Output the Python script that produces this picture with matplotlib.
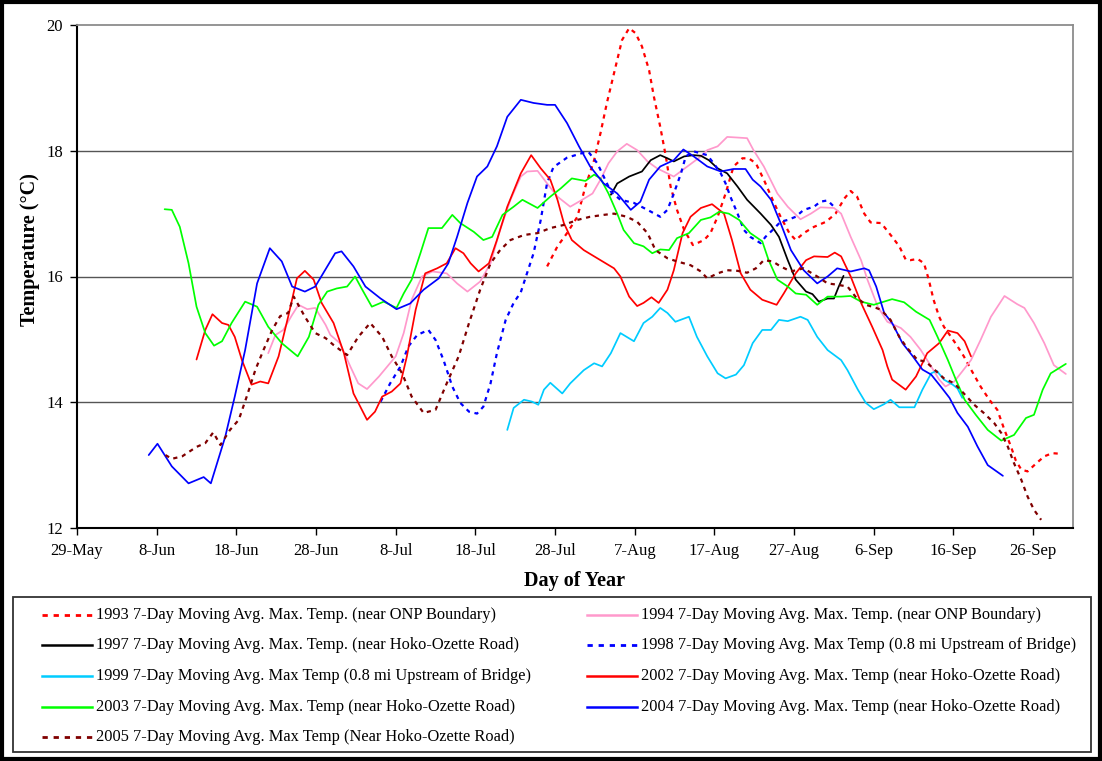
import matplotlib
matplotlib.use("Agg")
import matplotlib.pyplot as plt
from matplotlib.lines import Line2D
from matplotlib.patches import Rectangle

plt.rcParams['font.family'] = ['Liberation Serif', 'DejaVu Serif']

# x values: days after 29-May
tick_days = [0, 10, 20, 30, 40, 50, 60, 70, 80, 90, 100, 110, 120]
tick_labels = ["29-May", "8-Jun", "18-Jun", "28-Jun", "8-Jul", "18-Jul", "28-Jul",
               "7-Aug", "17-Aug", "27-Aug", "6-Sep", "16-Sep", "26-Sep"]
y_ticks = [12, 14, 16, 18, 20]

d1993 = [59.0, 60.3, 61.5, 62.8, 63.8, 64.9, 65.7, 66.5, 67.6, 68.4, 69.3, 70.1, 70.9, 71.8, 72.4, 73.2,
         73.9, 74.5, 75.3, 76.2, 77.3, 78.7, 79.5, 80.4, 81.4, 82.4, 83.5, 84.3, 85.2, 86.2, 87.3, 88.3,
         89.4, 90.2, 91.2, 92.5, 94.0, 95.2, 96.3, 97.1, 97.9, 98.8, 99.6, 100.9, 101.3, 102.3, 103.2,
         104.0, 104.6, 105.5, 106.3, 106.9, 107.5, 108.2, 108.8, 109.7, 110.5, 111.3, 112.2, 113.4,
         114.5, 115.5, 116.4, 117.2, 117.8, 118.5, 119.3, 120.4, 121.4, 122.4, 123.5]
t1993 = [16.16, 16.48, 16.69, 16.95, 17.43, 17.85, 18.28, 18.76, 19.34, 19.76, 19.95, 19.87, 19.66, 19.28,
         18.86, 18.38, 17.91, 17.43, 17.06, 16.74, 16.50, 16.58, 16.69, 16.95, 17.32, 17.75, 17.88, 17.88,
         17.80, 17.54, 17.22, 16.95, 16.69, 16.58, 16.69, 16.79, 16.87, 17.00, 17.24, 17.36, 17.27, 17.00,
         16.86, 16.85, 16.79, 16.63, 16.48, 16.27, 16.26, 16.28, 16.21, 15.95, 15.63, 15.36, 15.20, 15.04,
         14.89, 14.73, 14.52, 14.25, 14.04, 13.88, 13.56, 13.30, 13.08, 12.93, 12.90, 13.03, 13.14, 13.19,
         13.18]

d1994 = [24.0, 24.9, 25.9, 27.0, 27.8, 28.9, 29.9, 31.2, 31.8, 33.0, 34.3, 35.3, 36.4, 37.9, 40.0, 41.0,
         42.0, 43.3, 44.6, 46.4, 47.7, 49.0, 50.6, 51.9, 53.1, 54.4, 55.7, 56.5, 57.8, 59.0, 60.3, 61.9,
         63.4, 64.7, 65.7, 66.7, 67.8, 69.0, 70.3, 71.6, 72.8, 74.9, 76.6, 78.3, 79.1, 80.4, 81.6, 82.9,
         84.1, 84.9, 86.2, 87.9, 89.2, 90.8, 92.1, 93.3, 95.0, 95.9, 97.1, 98.4, 99.2, 100.5, 101.7, 103.4,
         104.6, 105.9, 107.2, 108.2, 109.0, 110.1, 111.1, 112.2, 113.4, 114.7, 116.4, 118.0, 118.9, 120.1,
         121.4, 122.6, 124.1]
t1994 = [14.78, 15.07, 15.15, 15.39, 15.55, 15.48, 15.50, 15.23, 15.07, 14.94, 14.57, 14.30, 14.21, 14.41,
         14.73, 15.10, 15.63, 16.00, 16.08, 16.05, 15.89, 15.76, 15.92, 16.21, 16.74, 17.22, 17.59, 17.67,
         17.68, 17.48, 17.27, 17.11, 17.22, 17.32, 17.54, 17.80, 17.99, 18.11, 18.01, 17.83, 17.72, 17.59,
         17.75, 17.91, 18.01, 18.07, 18.22, 18.21, 18.20, 18.01, 17.75, 17.32, 17.11, 16.91, 17.00, 17.10,
         17.09, 17.00, 16.63, 16.26, 15.95, 15.52, 15.28, 15.18, 15.04, 14.83, 14.57, 14.36, 14.25, 14.33,
         14.49, 14.67, 14.99, 15.36, 15.69, 15.56, 15.50, 15.26, 14.94, 14.59, 14.45]

d1997 = [67.0, 67.8, 69.3, 70.9, 72.0, 73.2, 74.1, 74.9, 76.2, 77.4, 78.3, 79.3, 80.4, 81.6, 82.9, 84.1,
         85.8, 87.1, 88.1, 89.2, 90.2, 91.5, 92.3, 93.1, 94.2, 95.0, 95.6, 96.2]
t1997 = [17.30, 17.48, 17.59, 17.67, 17.85, 17.93, 17.88, 17.83, 17.91, 17.93, 17.92, 17.85, 17.72, 17.64,
         17.43, 17.22, 17.00, 16.82, 16.63, 16.26, 15.95, 15.76, 15.72, 15.60, 15.65, 15.65, 15.84, 16.01]

d1998 = [38.1, 39.3, 40.6, 41.6, 42.7, 44.1, 45.0, 46.0, 47.1, 48.1, 49.2, 50.2, 51.0, 51.9, 52.7, 53.8,
         54.8, 55.7, 56.5, 57.3, 58.2, 59.0, 59.8, 61.5, 63.6, 64.2, 65.3, 66.1, 67.0, 68.2, 69.9, 71.6,
         73.2, 74.1, 74.9, 75.8, 76.4, 77.4, 79.1, 79.9, 80.8, 81.4, 82.0, 82.9, 83.7, 84.5, 85.8, 86.4,
         87.3, 88.3, 89.2, 90.2, 91.2, 92.5, 93.3, 94.2, 95.0]
t1998 = [14.01, 14.30, 14.57, 14.89, 15.07, 15.15, 14.99, 14.67, 14.25, 13.99, 13.85, 13.82, 13.93, 14.30,
         14.78, 15.31, 15.58, 15.75, 16.06, 16.37, 16.90, 17.49, 17.74, 17.89, 17.97, 17.98, 17.80, 17.59,
         17.35, 17.22, 17.17, 17.06, 16.95, 17.06, 17.32, 17.64, 17.91, 17.99, 17.93, 17.80, 17.64, 17.48,
         17.27, 17.00, 16.74, 16.63, 16.53, 16.63, 16.74, 16.87, 16.90, 16.95, 17.06, 17.11, 17.19, 17.21,
         17.11]

d1999 = [54.0, 54.8, 56.1, 57.1, 57.9, 58.6, 59.4, 60.9, 61.9, 63.6, 64.9, 65.9, 67.0, 68.2, 69.9, 71.1,
         72.2, 73.2, 74.1, 75.1, 76.8, 77.8, 79.1, 80.4, 81.4, 82.7, 83.7, 84.8, 86.0, 87.1, 88.1, 89.2,
         90.8, 91.7, 92.9, 94.2, 95.9, 96.7, 98.0, 99.0, 100.0, 101.3, 102.1, 103.2, 105.1, 106.1, 107.2,
         107.9, 108.8, 109.9, 110.5, 111.1]
t1999 = [13.56, 13.91, 14.04, 14.01, 13.96, 14.20, 14.31, 14.14, 14.30, 14.51, 14.62, 14.57, 14.78, 15.10,
         14.97, 15.26, 15.36, 15.50, 15.42, 15.28, 15.36, 15.04, 14.73, 14.46, 14.38, 14.44, 14.59, 14.94,
         15.15, 15.15, 15.31, 15.29, 15.36, 15.31, 15.04, 14.83, 14.67, 14.51, 14.20, 13.99, 13.89, 13.97,
         14.04, 13.92, 13.92, 14.20, 14.46, 14.50, 14.36, 14.28, 14.22, 14.07]

d2002 = [15.0, 16.1, 17.0, 18.2, 19.0, 19.8, 20.7, 21.9, 23.0, 24.0, 25.3, 26.5, 27.6, 28.6, 29.7, 30.7,
         32.2, 33.5, 34.7, 36.4, 37.4, 38.3, 39.5, 40.6, 41.4, 42.5, 43.7, 45.2, 46.4, 47.5, 48.5, 49.4,
         50.4, 51.7, 52.7, 54.0, 55.7, 57.0, 58.2, 59.4, 60.3, 61.1, 62.1, 63.6, 65.3, 67.4, 68.2, 69.3,
         70.3, 71.1, 72.1, 73.0, 74.1, 74.9, 76.0, 77.0, 78.3, 79.7, 81.2, 82.2, 83.3, 84.5, 86.0, 87.8,
         88.7, 90.2, 91.5, 92.5, 94.2, 95.1, 95.9, 97.1, 98.4, 99.8, 101.1, 101.7, 102.3, 104.0, 105.3,
         106.7, 108.2, 109.3, 110.5, 111.4, 112.2]
t2002 = [14.68, 15.15, 15.40, 15.26, 15.23, 15.04, 14.67, 14.28, 14.33, 14.30, 14.73, 15.36, 15.97, 16.09,
         15.95, 15.58, 15.26, 14.78, 14.14, 13.72, 13.85, 14.09, 14.17, 14.30, 14.73, 15.47, 16.05, 16.13,
         16.21, 16.45, 16.37, 16.21, 16.08, 16.21, 16.58, 17.11, 17.64, 17.93, 17.72, 17.54, 17.22, 16.85,
         16.58, 16.42, 16.29, 16.13, 16.00, 15.68, 15.53, 15.58, 15.67, 15.58, 15.79, 16.10, 16.69, 16.95,
         17.09, 17.15, 17.00, 16.58, 16.05, 15.79, 15.63, 15.55, 15.73, 16.05, 16.26, 16.32, 16.31, 16.38,
         16.32, 16.00, 15.58, 15.20, 14.83, 14.57, 14.36, 14.20, 14.41, 14.78, 14.94, 15.14, 15.10, 14.97,
         14.73]

d2003 = [11.0, 11.9, 12.9, 14.0, 15.0, 16.1, 17.2, 18.2, 19.4, 21.1, 22.6, 24.0, 25.7, 27.7, 29.1, 30.3,
         31.4, 32.6, 33.9, 34.9, 35.8, 37.0, 38.5, 40.1, 41.0, 42.0, 43.1, 44.1, 45.8, 47.1, 48.1, 49.8,
         51.0, 52.1, 53.4, 54.8, 55.9, 57.8, 59.4, 60.7, 62.1, 63.8, 64.9, 65.7, 66.7, 67.8, 68.6, 69.9,
         71.1, 72.2, 73.2, 74.3, 75.3, 76.8, 78.3, 79.5, 80.6, 81.8, 83.1, 84.5, 86.0, 86.8, 87.9, 89.2,
         90.2, 91.5, 92.9, 94.2, 95.9, 97.1, 98.4, 100.0, 102.3, 103.8, 105.3, 107.0, 108.0, 109.3, 110.3,
         111.4, 112.8, 114.3, 116.0, 117.6, 119.1, 120.1, 121.2, 122.2, 124.1]
t2003 = [17.07, 17.06, 16.79, 16.21, 15.52, 15.10, 14.90, 14.97, 15.26, 15.60, 15.52, 15.20, 14.94, 14.73,
         15.04, 15.55, 15.76, 15.81, 15.84, 16.00, 15.79, 15.52, 15.60, 15.50, 15.73, 15.95, 16.37, 16.77,
         16.77, 16.98, 16.85, 16.71, 16.58, 16.63, 16.98, 17.11, 17.22, 17.09, 17.27, 17.40, 17.56, 17.52,
         17.62, 17.56, 17.32, 17.00, 16.74, 16.53, 16.48, 16.37, 16.43, 16.42, 16.61, 16.69, 16.90, 16.94,
         17.03, 17.00, 16.90, 16.69, 16.56, 16.26, 15.95, 15.84, 15.73, 15.71, 15.55, 15.68, 15.68, 15.69,
         15.60, 15.55, 15.64, 15.59, 15.44, 15.31, 15.04, 14.67, 14.36, 14.04, 13.80, 13.56, 13.39, 13.48,
         13.75, 13.80, 14.20, 14.46, 14.61]

d2004 = [9.0, 10.1, 11.9, 14.0, 15.9, 16.8, 18.6, 19.8, 21.1, 22.6, 24.2, 25.7, 27.0, 28.6, 29.9, 32.4,
         33.2, 34.7, 36.2, 38.1, 40.1, 41.8, 43.5, 45.4, 46.6, 47.7, 49.0, 50.2, 51.5, 52.7, 54.0, 55.7,
         57.3, 59.0, 60.0, 61.5, 63.0, 64.4, 66.1, 67.8, 69.5, 70.7, 71.8, 73.2, 74.9, 76.1, 77.4, 79.1,
         80.8, 82.4, 83.9, 84.8, 85.8, 87.1, 88.3, 89.6, 91.2, 92.9, 94.2, 95.4, 97.1, 98.8, 99.4, 100.3,
         101.3, 102.3, 103.6, 104.9, 106.1, 107.2, 108.4, 109.5, 110.5, 111.8, 113.0, 114.3, 116.2]
t2004 = [13.16, 13.34, 12.98, 12.71, 12.81, 12.71, 13.45, 14.09, 14.83, 15.89, 16.45, 16.24, 15.84, 15.76,
         15.84, 16.37, 16.40, 16.16, 15.84, 15.65, 15.48, 15.57, 15.79, 15.97, 16.21, 16.63, 17.17, 17.59,
         17.75, 18.07, 18.54, 18.81, 18.76, 18.73, 18.73, 18.44, 18.07, 17.75, 17.48, 17.32, 17.06, 17.19,
         17.54, 17.75, 17.85, 18.02, 17.91, 17.75, 17.67, 17.71, 17.71, 17.54, 17.43, 17.22, 16.85, 16.42,
         16.10, 15.89, 16.00, 16.13, 16.08, 16.13, 16.10, 15.84, 15.42, 15.26, 14.94, 14.73, 14.52, 14.44,
         14.25, 14.07, 13.83, 13.61, 13.30, 13.00, 12.83]

d2005 = [11.1, 11.9, 13.2, 15.0, 16.1, 17.1, 18.0, 19.2, 20.3, 21.3, 22.4, 23.4, 24.5, 25.5, 26.5, 27.2,
         28.6, 29.9, 31.2, 32.2, 33.9, 35.3, 36.8, 38.3, 39.5, 40.8, 42.0, 43.5, 45.0, 46.4, 47.9, 49.2,
         50.6, 51.9, 53.1, 54.4, 56.1, 57.8, 59.4, 61.1, 62.8, 64.4, 66.1, 67.4, 69.0, 70.3, 71.6, 72.6,
         74.1, 75.3, 77.0, 78.3, 79.1, 80.4, 81.6, 82.9, 84.1, 85.2, 86.2, 87.3, 88.3, 89.6, 91.2, 92.9,
         94.2, 95.4, 96.7, 97.7, 99.0, 100.3, 100.9, 102.1, 103.2, 104.2, 105.5, 106.5, 107.6, 108.8,
         110.1, 111.3, 112.6, 113.8, 115.1, 116.0, 116.8, 117.6, 118.5, 119.3, 120.1, 121.0]
t2005 = [13.16, 13.10, 13.14, 13.29, 13.35, 13.52, 13.32, 13.56, 13.72, 14.09, 14.52, 14.83, 15.15, 15.37,
         15.42, 15.68, 15.36, 15.10, 15.02, 14.91, 14.75, 15.04, 15.26, 15.04, 14.73, 14.46, 14.09, 13.83,
         13.88, 14.30, 14.73, 15.26, 15.79, 16.21, 16.42, 16.58, 16.66, 16.69, 16.77, 16.82, 16.90, 16.95,
         16.98, 17.00, 16.95, 16.87, 16.69, 16.42, 16.29, 16.24, 16.18, 16.08, 15.97, 16.05, 16.10, 16.09,
         16.06, 16.13, 16.26, 16.24, 16.16, 16.08, 16.13, 16.00, 15.89, 15.87, 15.84, 15.68, 15.55, 15.50,
         15.47, 15.31, 15.04, 14.86, 14.67, 14.65, 14.52, 14.38, 14.30, 14.14, 13.96, 13.83, 13.67, 13.51,
         13.30, 13.03, 12.77, 12.50, 12.29, 12.13]

labels = [
    "1993 7-Day Moving Avg. Max. Temp. (near ONP Boundary)",
    "1994 7-Day Moving Avg. Max. Temp. (near ONP Boundary)",
    "1997 7-Day Moving Avg. Max. Temp. (near Hoko-Ozette Road)",
    "1998 7-Day Moving Avg. Max Temp (0.8 mi Upstream of Bridge)",
    "1999 7-Day Moving Avg. Max Temp (0.8 mi Upstream of Bridge)",
    "2002 7-Day Moving Avg. Max. Temp (near Hoko-Ozette Road)",
    "2003 7-Day Moving Avg. Max. Temp (near Hoko-Ozette Road)",
    "2004 7-Day Moving Avg. Max. Temp (near Hoko-Ozette Road)",
    "2005 7-Day Moving Avg. Max Temp (Near Hoko-Ozette Road)",
]

DOT = (0, (1.9, 2.1))
series = [
    (d1993, t1993, "#FF0000", DOT),
    (d1994, t1994, "#FF99CC", "-"),
    (d1997, t1997, "#000000", "-"),
    (d1998, t1998, "#0000FF", DOT),
    (d1999, t1999, "#00CCFF", "-"),
    (d2002, t2002, "#FF0000", "-"),
    (d2003, t2003, "#00FF00", "-"),
    (d2004, t2004, "#0000FF", "-"),
    (d2005, t2005, "#800000", DOT),
]
for d, t, c, ls in series:
    assert len(d) == len(t), (len(d), len(t))

W, H = 1102, 761
fig = plt.figure(figsize=(W / 100, H / 100), dpi=100)
L, R, T, B = 77, 1073, 25, 528
ax = fig.add_axes([L / W, 1 - B / H, (R - L) / W, (B - T) / H])

for (d, t, c, ls), lab in zip(series, labels):
    lw = 1.6 if ls is DOT else 1.25
    ax.plot(d, t, color=c, linestyle=ls, lw=lw, label=lab,
            solid_capstyle='round', solid_joinstyle='round')

ax.set_xlim(0, 125)
ax.set_ylim(12, 20)
ax.set_xticks(tick_days)
ax.set_xticklabels(tick_labels)
ax.set_yticks(y_ticks)
for yv in [14, 16, 18]:
    ax.axhline(yv, color="#555555", lw=1.0, zorder=0)
ax.tick_params(axis='both', direction='out', length=5, width=1.0, labelsize=12, color='black')
ax.tick_params(axis='x', pad=6)
ax.tick_params(axis='y', pad=5)
for s in ['left', 'bottom']:
    ax.spines[s].set_color('black')
    ax.spines[s].set_linewidth(1.5)
for s in ['top', 'right']:
    ax.spines[s].set_color('#8c8c8c')
    ax.spines[s].set_linewidth(1.3)

fig.text(30 / W, 1 - 250 / H, "Temperature (°C)", rotation=90, ha='center', va='center',
         fontsize=14.5, fontweight='bold')
fig.text(575 / W, 1 - 581 / H, "Day of Year", ha='center', va='center',
         fontsize=14.5, fontweight='bold')

# legend box
fig.add_artist(Rectangle((13 / W, 1 - 752 / H), (1091 - 13) / W, (752 - 597) / H,
                         transform=fig.transFigure, fill=False, edgecolor='#333333', lw=1.3))
row_y = [615, 645, 676, 707, 737]
col_x = [42, 587]
for i, ((d, t, c, ls), lab) in enumerate(zip(series, labels)):
    r, col = divmod(i, 2)
    y = 1 - row_y[r] / H
    x0 = col_x[col]
    lw = 2.0 if ls is DOT else 1.8
    fig.add_artist(Line2D([x0 / W, (x0 + 50) / W], [y, y], transform=fig.transFigure,
                          color=c, linestyle=ls, lw=lw))
    fig.text((x0 + 54) / W, y, lab, ha='left', va='center', fontsize=11.8)

# outer border
fig.add_artist(Rectangle((0.0015, 0.002), 0.997, 0.996, transform=fig.transFigure,
                         fill=False, edgecolor='black', lw=3))

fig.savefig("out.png", dpi=100)
